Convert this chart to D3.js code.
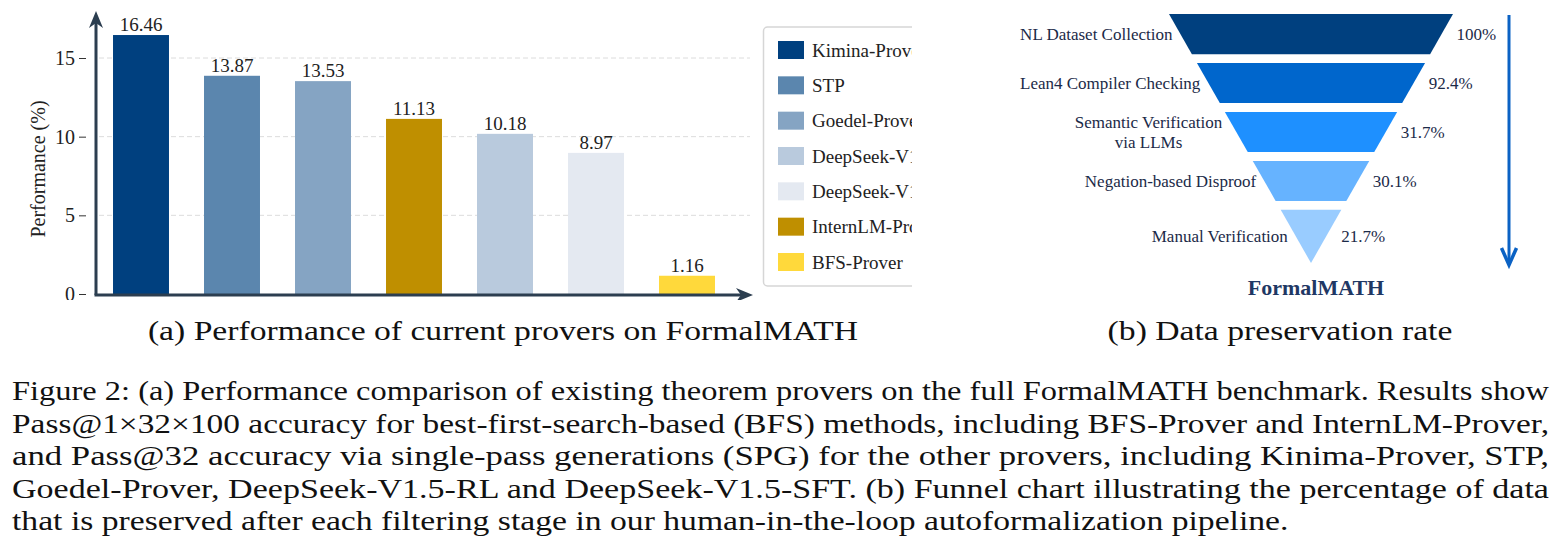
<!DOCTYPE html>
<html>
<head>
<meta charset="utf-8">
<script src="https://cdn.jsdelivr.net/npm/d3@7"></script>
<style>
  html, body { margin: 0; padding: 0; background: #fff; }
  svg { display: block; }
  text { font-family: "Liberation Serif", "Times New Roman", serif; }
</style>
</head>
<body>
<svg id="fig" width="1558" height="556"></svg>
<script>
// (a) bar chart data
const provers = ['Kimina-Prover', 'STP', 'Goedel-Prover', 'InternLM-Prover', 'DeepSeek-V1.5-RL', 'DeepSeek-V1.5-SFT', 'BFS-Prover'];
const scores = [16.46, 13.87, 13.53, 11.13, 10.18, 8.97, 1.16];
const legendOrder = ['Kimina-Prover', 'STP', 'Goedel-Prover', 'DeepSeek-V1.5-RL', 'DeepSeek-V1.5-SFT', 'InternLM-Prover', 'BFS-Prover'];
const proverColors = ['#00407f', '#5b86ae', '#85a4c3', '#bf8f00', '#b9cadd', '#e4e9f1', '#ffd93b'];
const yTicks = [0, 5, 10, 15];

// (b) funnel data
const stages = ['NL Dataset Collection', 'Lean4 Compiler Checking', 'Semantic Verification\nvia LLMs', 'Negation-based Disproof', 'Manual Verification'];
const keptRates = [100, 92.4, 31.7, 30.1, 21.7];
const stageColors = ['#00407f', '#0066cc', '#1e90ff', '#66b3ff', '#99ccff'];

const captionLines = [
  'Figure 2: (a) Performance comparison of existing theorem provers on the full FormalMATH benchmark. Results show',
  'Pass@1\u00d732\u00d7100 accuracy for best-first-search-based (BFS) methods, including BFS-Prover and InternLM-Prover,',
  'and Pass@32 accuracy via single-pass generations (SPG) for the other provers, including Kinima-Prover, STP,',
  'Goedel-Prover, DeepSeek-V1.5-RL and DeepSeek-V1.5-SFT. (b) Funnel chart illustrating the percentage of data',
  'that is preserved after each filtering stage in our human-in-the-loop autoformalization pipeline.'
];

const svg = d3.select('#fig');
const ink = '#222';
const axisInk = '#2c3e50';

// ---------- (a) bars ----------
const left = svg.append('g');
svg.append('defs').append('clipPath').attr('id', 'clipA')
  .append('rect').attr('x', 0).attr('y', 0).attr('width', 912).attr('height', 300);
left.attr('clip-path', 'url(#clipA)');

const x = d3.scaleBand().domain(provers).range([95.5, 732.5]).paddingInner(0.385).paddingOuter(0.1925);
const y = d3.scaleLinear().domain([0, 15]).range([294, 58]);
const color = d3.scaleOrdinal().domain(provers).range(proverColors);

// dashed grid
left.append('g')
  .selectAll('line')
  .data(yTicks.filter(t => t > 0))
  .enter()
  .append('line')
  .attr('x1', 99).attr('x2', 750)
  .attr('y1', d => y(d)).attr('y2', d => y(d))
  .attr('stroke', '#dcdcdc')
  .attr('stroke-width', 1)
  .attr('stroke-dasharray', '5,3');

// tick labels (offset from spine)
const yAxis = d3.axisLeft(y).tickValues(yTicks).tickSize(7).tickPadding(4).tickFormat(d3.format('d'));
const ya = left.append('g').attr('transform', 'translate(86,0)').call(yAxis);
ya.select('.domain').remove();
ya.selectAll('line').attr('stroke', '#333');
ya.selectAll('text').attr('font-size', 20).attr('fill', ink)
  .attr('font-family', '"Liberation Serif", serif');

left.append('text')
  .attr('transform', `translate(45,${(y(0) + y(15)) / 2 - 7}) rotate(-90)`)
  .attr('text-anchor', 'middle')
  .attr('font-size', 20)
  .attr('fill', ink)
  .text('Performance (%)');

// bars
left.append('g')
  .selectAll('rect')
  .data(provers)
  .enter()
  .append('rect')
  .attr('x', d => x(d))
  .attr('y', (d, i) => y(scores[i]))
  .attr('width', x.bandwidth())
  .attr('height', (d, i) => y(0) - y(scores[i]))
  .attr('fill', d => color(d));

left.append('g')
  .selectAll('text')
  .data(provers)
  .enter()
  .append('text')
  .attr('x', d => x(d) + x.bandwidth() / 2)
  .attr('y', (d, i) => y(scores[i]) - 4)
  .attr('text-anchor', 'middle')
  .attr('font-size', 19)
  .attr('fill', ink)
  .text((d, i) => scores[i].toFixed(2));

// spines with arrows
left.append('line').attr('x1', 96).attr('x2', 96).attr('y1', 295).attr('y2', 20)
  .attr('stroke', axisInk).attr('stroke-width', 3);
left.append('line').attr('x1', 94.5).attr('x2', 744).attr('y1', 295).attr('y2', 295)
  .attr('stroke', axisInk).attr('stroke-width', 3);
left.append('path').attr('d', 'M96,11 L103,28 L96,23 L89,28 Z').attr('fill', axisInk);
left.append('path').attr('d', 'M753,295 L736,288 L741,295 L736,302 Z').attr('fill', axisInk);

// legend
const legend = left.append('g');
legend.append('rect')
  .attr('x', 763.5).attr('y', 27).attr('width', 220).attr('height', 259)
  .attr('rx', 4).attr('fill', '#fff').attr('stroke', '#d6d6d6').attr('stroke-width', 1.5);
const ly = d3.scalePoint().domain(legendOrder).range([50, 262]);
const rows = legend.selectAll('g.row')
  .data(legendOrder)
  .enter()
  .append('g')
  .attr('transform', d => `translate(0,${ly(d)})`);
rows.append('rect')
  .attr('x', 778).attr('y', -9).attr('width', 26).attr('height', 18)
  .attr('fill', d => color(d));
rows.append('text')
  .attr('x', 812).attr('dy', '0.35em')
  .attr('font-size', 19)
  .attr('fill', ink)
  .text(d => d);

// ---------- (b) funnel ----------
const fx = 1311;
const apex = 263;
const band = d3.scaleBand().domain(stages).range([14, 250]).paddingInner(0.18).paddingOuter(0);
const half = d3.scaleLinear().domain([14, apex]).range([142, 0]);
const funnel = svg.append('g');

funnel.selectAll('path')
  .data(stages)
  .enter()
  .append('path')
  .attr('d', (d, i) => {
    const t = band(d);
    const b = i === stages.length - 1 ? apex : t + band.bandwidth();
    return `M${fx - half(t)},${t} L${fx + half(t)},${t} L${fx + half(b)},${b} L${fx - half(b)},${b} Z`;
  })
  .attr('fill', (d, i) => stageColors[i]);

const stageMid = (d, i) => i === stages.length - 1 ? (band(d) + apex) / 2 : band(d) + band.bandwidth() / 2;

const labels = funnel.selectAll('text.stage')
  .data(stages)
  .enter()
  .append('text')
  .attr('class', 'stage')
  .attr('font-size', 17)
  .attr('fill', '#1b2a48');
labels.each(function (d, i) {
  const parts = d.split('\n');
  const cy = stageMid(d, i);
  const edge = fx - half(cy) - 8;
  const t = d3.select(this);
  if (parts.length === 1) {
    t.attr('x', edge).attr('y', cy).attr('dy', '0.35em').attr('text-anchor', 'end').text(d);
  } else {
    t.attr('text-anchor', 'middle');
    parts.forEach((p, k) => {
      t.append('tspan').attr('x', 0).attr('y', cy + (k - (parts.length - 1) / 2) * 20).attr('dy', '0.35em').text(p);
    });
    const w = d3.max(t.selectAll('tspan').nodes(), n => n.getComputedTextLength());
    t.selectAll('tspan').attr('x', edge - 6 - w / 2);
  }
});

funnel.selectAll('text.rate')
  .data(keptRates)
  .enter()
  .append('text')
  .attr('class', 'rate')
  .attr('x', (d, i) => fx + half(stageMid(stages[i], i)) + 15)
  .attr('y', (d, i) => stageMid(stages[i], i))
  .attr('dy', '0.35em')
  .attr('font-size', 17)
  .attr('fill', '#1b2a48')
  .text(d => d + '%');

// flow arrow
funnel.append('line').attr('x1', 1509).attr('x2', 1509).attr('y1', 15).attr('y2', 262)
  .attr('stroke', '#0b62c4').attr('stroke-width', 3);
funnel.append('path').attr('d', 'M1501.5,248 L1509,265 L1516.5,248')
  .attr('fill', 'none').attr('stroke', '#0b62c4').attr('stroke-width', 3.5);

funnel.append('text')
  .attr('x', 1316).attr('y', 295)
  .attr('text-anchor', 'middle')
  .attr('font-size', 22)
  .attr('font-weight', 'bold')
  .attr('fill', '#1f3864')
  .text('FormalMATH');

// ---------- captions ----------
const cap = svg.append('g').attr('font-size', 27).attr('fill', '#111');
const lineW = 1537;
const capNodes = captionLines.map((s, i) => cap.append('text')
  .attr('x', 12).attr('y', 400 + i * 32.5).text(s));
const ratios = capNodes.slice(0, 4).map(n => lineW / n.node().getComputedTextLength());
const r = d3.mean(ratios);
capNodes.forEach((n, i) => {
  const w = i < 4 ? lineW : n.node().getComputedTextLength() * r;
  n.attr('textLength', w).attr('lengthAdjust', 'spacingAndGlyphs');
});

[['(a) Performance of current provers on FormalMATH', 503], ['(b) Data preservation rate', 1280]].forEach(([s, cx]) => {
  const t = cap.append('text').attr('x', cx).attr('y', 340).attr('text-anchor', 'middle').text(s);
  t.attr('textLength', t.node().getComputedTextLength() * r).attr('lengthAdjust', 'spacingAndGlyphs');
});
</script>
</body>
</html>
